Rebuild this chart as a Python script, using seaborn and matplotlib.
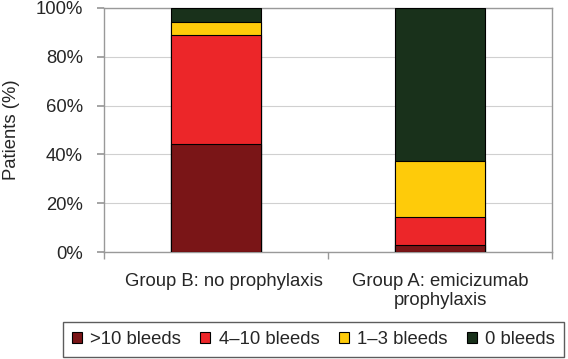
import matplotlib
matplotlib.use("Agg")
import matplotlib.pyplot as plt
import matplotlib.transforms as mtrans
import seaborn as sns
import numpy as np
import pandas as pd
from matplotlib.ticker import PercentFormatter, FixedLocator
from matplotlib.patches import Patch

groups = ["Group B: no prophylaxis", "Group A: emicizumab\nprophylaxis"]
categories = [">10 bleeds", "4\u201310 bleeds", "1\u20133 bleeds", "0 bleeds"]
over10 = [44.4, 2.9]
four_ten = [44.4, 11.4]
one_three = [5.6, 22.9]
zero = [5.6, 62.8]
colors = ["#7a1517", "#ec2629", "#fecb0a", "#19311b"]

sns.set_theme(style="white")
plt.rcParams["font.family"] = ["Liberation Sans", "DejaVu Sans"]
fs = 13.3

df = pd.DataFrame({"group": groups, categories[0]: over10, categories[1]: four_ten,
                   categories[2]: one_three, categories[3]: zero})
cum = df[categories].cumsum(axis=1)

fig, ax = plt.subplots(figsize=(5.68, 3.59), dpi=100)
# draw cumulative totals from top layer down so lower layers sit in front
for cat, col in reversed(list(zip(categories, colors))):
    sns.barplot(x=df["group"], y=cum[cat], color=col, width=0.4,
                edgecolor="black", linewidth=0.8, saturation=1, ax=ax, zorder=3)

ax.set_ylim(0, 100)
ax.set_xlim(-0.5, 1.5)
ax.yaxis.set_major_formatter(PercentFormatter(decimals=0))
ax.set_yticks(np.arange(0, 101, 20))
ax.yaxis.grid(True, color="#d0d0d0", linewidth=0.8, zorder=0)
ax.set_xlabel("")
ax.set_ylabel("Patients (%)", fontsize=fs, labelpad=11.5)
ax.tick_params(axis="y", labelsize=fs, length=5, color="#999999", direction="out", left=True, pad=10)
ax.tick_params(axis="x", labelsize=fs, length=0, pad=15)
ax.xaxis.set_minor_locator(FixedLocator([-0.5, 0.5, 1.5]))
ax.tick_params(axis="x", which="minor", length=5, color="#999999", bottom=True)
for s in ax.spines.values():
    s.set_color("#999999")
    s.set_linewidth(1)

# first category label sits a little right of its bar in the original
lab = ax.get_xticklabels()[0]
lab.set_transform(lab.get_transform() + mtrans.ScaledTranslation(0.08, 0, fig.dpi_scale_trans))

handles = [Patch(facecolor=c, edgecolor="black", linewidth=0.8, label=l) for l, c in zip(categories, colors)]
leg = fig.legend(handles=handles, loc="lower left", bbox_to_anchor=(63 / 568, 2 / 359), ncol=4,
                 frameon=True, fancybox=False, fontsize=fs, handlelength=0.54, handleheight=0.54,
                 handletextpad=0.45, columnspacing=1.05, borderpad=0.48, borderaxespad=0)
leg.get_frame().set_edgecolor("#333333")
leg.get_frame().set_linewidth(1)

fig.subplots_adjust(left=0.183, right=0.972, top=0.978, bottom=0.298)
fig.savefig("out.png", dpi=100)
